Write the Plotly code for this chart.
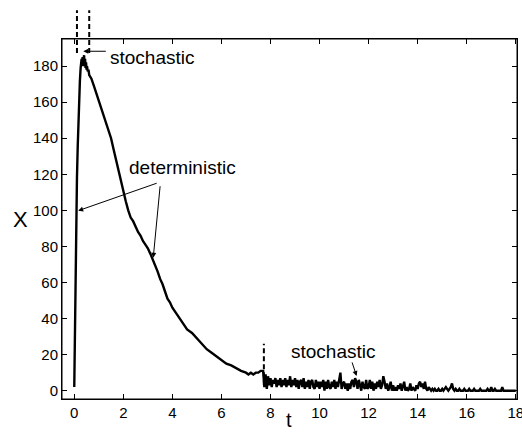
import numpy as np
import plotly.graph_objects as go

# initial rise
t_rise = [0.0, 0.02, 0.04, 0.07, 0.11]
x_rise = [2, 30, 60, 90, 118]

# noisy peak (stochastic window near the top)
t_peak = [0.14, 0.17, 0.20, 0.23, 0.26, 0.28, 0.30, 0.32, 0.34, 0.36, 0.38, 0.40,
          0.42, 0.44, 0.46, 0.48, 0.50, 0.52, 0.55, 0.58, 0.61]
x_peak = [135, 150, 163, 172, 179, 182, 184, 181, 185, 180, 183, 186,
          181, 184, 179, 182, 178, 180, 177, 178, 175]

# deterministic decay
t_det = [0.7, 0.8, 0.9, 1.0, 1.1, 1.2, 1.3, 1.4, 1.5, 1.6, 1.7, 1.8, 1.9, 2.0, 2.1,
         2.2, 2.3, 2.4, 2.5, 2.6, 2.7, 2.8, 2.9, 3.0, 3.1, 3.2, 3.3, 3.4, 3.5, 3.6,
         3.7, 3.8, 3.9, 4.0, 4.2, 4.4, 4.6, 4.8, 5.0, 5.2, 5.4, 5.6, 5.8, 6.0, 6.2,
         6.4, 6.6, 6.8, 7.0, 7.1, 7.2, 7.3, 7.4, 7.5, 7.6, 7.7]
x_det = [173, 169, 165, 161, 157, 152, 149, 145, 140, 134, 128, 123, 116, 110, 105,
         100, 96, 94, 91, 88, 86, 83, 81, 79, 76, 73, 70, 66, 62, 59,
         55, 51, 49, 46, 42, 38, 34, 32, 29, 26, 23, 21, 19, 17, 15,
         14, 12.5, 11, 10, 9, 10, 9, 10, 10, 11, 11]

# stochastic tail, sampled every 0.05 from t = 7.75
tail_start = 7.75
tail_step = 0.05
x_tail = [2, 9, 1, 8, 3, 7, 2, 6, 4, 7, 2, 6, 3, 7, 2, 6, 3, 7, 2, 6, 3, 8, 2, 6, 3,
          7, 2, 6, 1, 5, 6, 2, 7, 1, 5, 2, 6, 1, 5, 6, 2, 1, 6, 2, 5,
          1, 5, 2, 6, 0, 5, 1, 6, 2, 1, 5, 2, 6, 1, 5, 2, 7, 10, 1, 4,
          5, 1, 4, 0, 4, 1, 5, 6, 2, 7, 5, 1, 6, 2, 0, 5, 2, 1, 6, 1,
          2, 6, 1, 5, 0, 4, 1, 5, 2, 6, 1, 3, 8, 5, 1, 4, 0, 2, 5, 0,
          3, 0, 2, 0, 3, 1, 4, 0, 2, 5, 0, 2, 0, 1, 4, 0, 2, 1, 0, 3,
          1, 4, 5, 2, 4, 1, 5, 1, 0, 2, 1, 0, 1, 0, 1, 0, 0, 1, 0, 0,
          1, 0, 1, 2, 1, 0, 1, 2, 4, 1, 0, 1, 0, 0, 1, 0, 0, 0, 1, 0,
          0, 0, 1, 0, 0, 0, 1, 0, 0, 0, 0, 1, 0, 0, 0, 0, 0, 1, 0, 0,
          2, 0, 0, 1, 0, 0, 0, 0, 0, 2, 0, 0, 0, 0, 0, 0, 0, 0, 0, 0,
          0]
t_tail = list(np.round(tail_start + tail_step * np.arange(len(x_tail)), 2))

# switching times (dashed markers)
switch_t = [0.11, 0.61, 7.73]

x_ticks = [0, 2, 4, 6, 8, 10, 12, 14, 16, 18]
y_ticks = [0, 20, 40, 60, 80, 100, 120, 140, 160, 180]

t_all = t_rise + t_peak + t_det + t_tail
x_all = x_rise + x_peak + x_det + x_tail

FONT = "Liberation Sans, Arial, sans-serif"

fig = go.Figure()
fig.add_trace(go.Scatter(x=t_all, y=x_all, mode="lines",
                         line=dict(color="black", width=2.4), showlegend=False,
                         hoverinfo="skip"))

dash = "5px,3px"
for tv in switch_t[:2]:
    fig.add_shape(type="line", xref="x", yref="paper", x0=tv, x1=tv,
                  y0=0.961, y1=1.08, line=dict(color="black", width=2, dash=dash))
fig.add_shape(type="line", xref="x", yref="y", x0=switch_t[2], x1=switch_t[2],
              y0=3, y1=26, line=dict(color="black", width=2, dash=dash))

# frame
fig.add_shape(type="rect", xref="paper", yref="paper", x0=0, x1=1, y0=0, y1=1,
              line=dict(color="black", width=1), layer="above")

font_ann = dict(family=FONT, size=19, color="black")
fig.add_annotation(x=3.18, y=184.8, text="stochastic", showarrow=False, font=font_ann)
fig.add_annotation(x=4.41, y=124, text="deterministic", showarrow=False, font=font_ann)
fig.add_annotation(x=10.55, y=21.5, text="stochastic", showarrow=False, font=font_ann)

arrow_kw = dict(text="", showarrow=True, arrowhead=2, arrowsize=1, arrowwidth=1,
                arrowcolor="black", standoff=0, startstandoff=0)
fig.add_annotation(x=0.37, y=188.2, ax=24, ay=0, **arrow_kw)
fig.add_annotation(x=0.16, y=99.8, ax=80, ay=-28, **arrow_kw)
fig.add_annotation(x=3.22, y=73.7, ax=7, ay=-73, **arrow_kw)
fig.add_annotation(x=11.51, y=8.2, ax=-5, ay=-15, **arrow_kw)

# axis titles
fig.add_annotation(x=0.499, y=-0.058, xref="paper", yref="paper", text="t",
                   xanchor="center", yanchor="middle",
                   showarrow=False, font=dict(family=FONT, size=20, color="black"))
fig.add_annotation(x=-0.092, y=0.5, xref="paper", yref="paper", text="X",
                   xanchor="center", yanchor="middle",
                   showarrow=False, font=dict(family=FONT, size=22, color="black"))

axis_common = dict(showline=True, linecolor="black", linewidth=1, mirror="ticks",
                   ticks="inside", ticklen=5, tickcolor="black", tickwidth=1,
                   showgrid=False, zeroline=False, ticklabeloverflow="allow",
                   automargin=False,
                   tickfont=dict(family=FONT, size=15, color="black"))

fig.update_xaxes(range=[-0.5, 18.05], tickvals=x_ticks, **axis_common)
fig.update_yaxes(range=[-4.6, 195], tickvals=y_ticks, **axis_common)

fig.update_layout(width=522, height=435, margin=dict(l=62, r=5, t=39, b=36),
                  plot_bgcolor="white", paper_bgcolor="white")

fig.write_html("out.html")
